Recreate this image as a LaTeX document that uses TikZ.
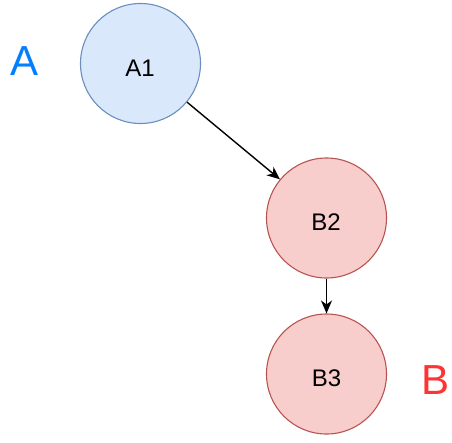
\documentclass[tikz,border=0pt]{standalone}
\usepackage{fontspec}
\setmainfont{Liberation Sans}
\usetikzlibrary{arrows.meta}
\definecolor{bluefill}{HTML}{DAE8FC}
\definecolor{bluedraw}{HTML}{6C8EBF}
\definecolor{redfill}{HTML}{F8CECC}
\definecolor{reddraw}{HTML}{B85450}
\definecolor{labelblue}{HTML}{007FFF}
\definecolor{labelred}{HTML}{FF3333}
\begin{document}
\begin{tikzpicture}[x=1pt,y=-1pt,
  bluecirc/.style={circle,draw=bluedraw,fill=bluefill,line width=1.1pt,minimum size=120pt,inner sep=0pt},
  redcirc/.style={circle,draw=reddraw,fill=redfill,line width=1.1pt,minimum size=120pt,inner sep=0pt},
  ctext/.style={font=\fontsize{24}{28}\selectfont,inner sep=0pt},
  biglabel/.style={font=\fontsize{42}{48}\selectfont,inner sep=0pt},
  conn/.style={line width=1.4pt,-{Stealth[length=13pt,width=11pt,inset=4pt]}}]
\useasboundingbox (0,0) rectangle (452,442);
\node[bluecirc] (a1) at (140.5,63.5) {};
\node[redcirc] (b2) at (326.5,218) {};
\node[redcirc] (b3) at (326.5,374) {};
\node[ctext] (ta1) at (140,68) {A1};
\node[ctext] (tb2) at (326,222.5) {B2};
\node[ctext] (tb3) at (326.5,378.5) {B3};
\node[biglabel,text=labelblue] (la) at (24.5,61) {A};
\node[biglabel,text=labelred] (lb) at (435,380) {B};
\draw[conn] (a1) -- (b2);
\draw[conn] (b2) -- (b3);
\end{tikzpicture}
\end{document}
